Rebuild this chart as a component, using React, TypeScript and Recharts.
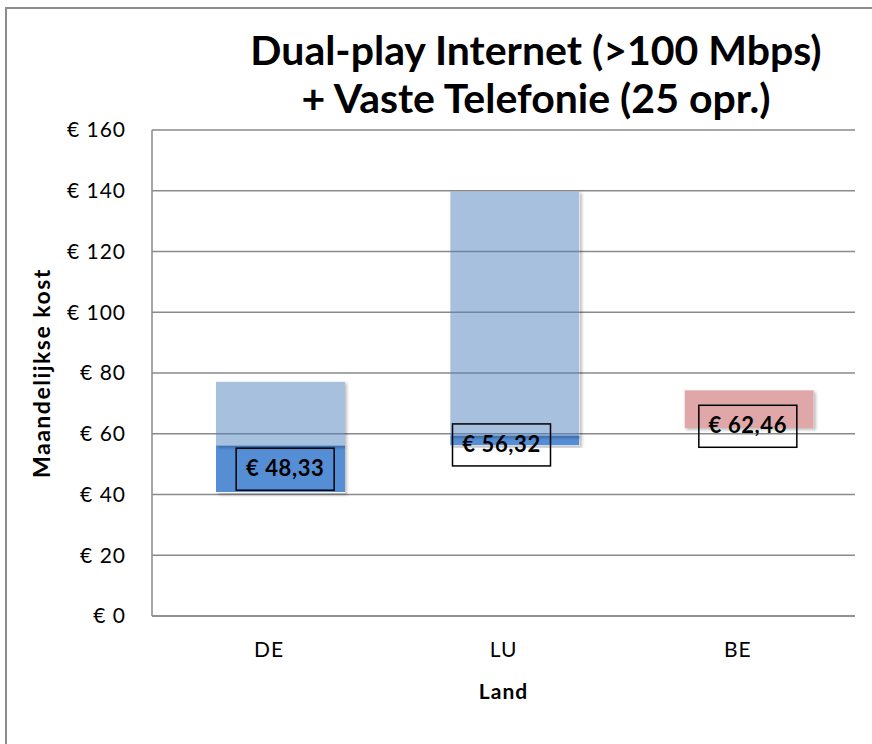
import {
  ComposedChart,
  Bar,
  Line,
  Cell,
  XAxis,
  YAxis,
  CartesianGrid,
} from "recharts";

const countries = ["DE", "LU", "BE"];
// floating bars: invisible base, then a dark lower band and a light upper band
const baseValues = [40.8, 56.2, 61.9];
const lowBand = [15.4, 3.3, 0];
const highBand = [20.9, 80.2, 12.4];
const averages = [48.33, 56.32, 62.46];
const yTicks = [0, 20, 40, 60, 80, 100, 120, 140, 160];

const highColors = ["#4F81BD", "#4F81BD", "#C0504D"];

const data = countries.map((c, i) => ({
  land: c,
  base: baseValues[i],
  low: lowBand[i],
  high: highBand[i],
  avg: averages[i],
}));

const FONT = "Lato, 'Open Sans', sans-serif";
const BAR_SHIFT = 11;
const LABEL_SHIFT = [16, -2, 10];

const euro = (v: number) => "€ " + v.toFixed(2).replace(".", ",");

function ShiftedBar(props: any) {
  const { x, y, width, height, fill, fillOpacity } = props;
  if (!height || height <= 0) return null;
  return (
    <rect
      x={x + BAR_SHIFT}
      y={y}
      width={width}
      height={height}
      fill={fill}
      fillOpacity={fillOpacity}
      filter="url(#barShadow)"
    />
  );
}

function AvgLabel(props: any) {
  const { cx, cy, index, payload } = props;
  if (cx == null || cy == null) return null;
  const w = 98;
  const h = 42;
  const x = cx + LABEL_SHIFT[index] - w / 2;
  return (
    <g key={"lbl" + index}>
      <rect x={x} y={cy - h / 2} width={w} height={h} fill="none" stroke="#000" strokeWidth={1.5} />
      <text
        x={x + w / 2}
        y={cy + 1}
        textAnchor="middle"
        dominantBaseline="middle"
        fontFamily={FONT}
        fontWeight={700}
        fontSize={22}
        letterSpacing={0.6}
        fill="#000"
      >
        {euro(payload.avg)}
      </text>
    </g>
  );
}

export default function App() {
  return (
    <div style={{ position: "absolute", left: 0, top: 0, width: 872, height: 744, overflow: "hidden", background: "#fff" }}>
      <style>{"html,body{margin:0;overflow:hidden}"}</style>
      <div
        style={{
          position: "absolute",
          left: 5,
          top: 7,
          width: 1200,
          height: 1000,
          borderTop: "2px solid #8c8c8c",
          borderLeft: "2px solid #8c8c8c",
        }}
      />
      <div
        style={{
          position: "absolute",
          left: 236,
          width: 600,
          top: 26,
          textAlign: "center",
          whiteSpace: "nowrap",
          fontFamily: FONT,
          fontWeight: 700,
          fontSize: 41,
          lineHeight: "48px",
          color: "#000",
        }}
      >
        Dual-play Internet (&gt;100 Mbps)
        <br />+ Vaste Telefonie (25 opr.)
      </div>
      <div style={{ position: "absolute", left: 0, top: 0 }}>
        <ComposedChart
          width={872}
          height={744}
          data={data}
          margin={{ top: 130, right: 17, bottom: 0, left: 0 }}
        >
          <defs>
            <filter id="barShadow" x="-10%" y="-10%" width="130%" height="130%">
              <feComponentTransfer in="SourceAlpha" result="solid">
                <feFuncA type="linear" slope="100" />
              </feComponentTransfer>
              <feGaussianBlur in="solid" stdDeviation="1.5" />
              <feOffset dx="2" dy="2" result="blur" />
              <feComposite in="blur" in2="solid" operator="out" result="outer" />
              <feComponentTransfer in="outer" result="sh">
                <feFuncA type="linear" slope="0.25" />
              </feComponentTransfer>
              <feMerge>
                <feMergeNode in="sh" />
                <feMergeNode in="SourceGraphic" />
              </feMerge>
            </filter>
          </defs>
          <CartesianGrid vertical={false} stroke="#8a8a8a" strokeWidth={1.5} />
          <XAxis
            dataKey="land"
            height={128}
            axisLine={{ stroke: "#8a8a8a", strokeWidth: 1.5 }}
            tickLine={false}
            tickSize={0}
            tickMargin={26}
            tick={{ fontFamily: FONT, fontSize: 21, fill: "#000", letterSpacing: 1 }}
            label={{
              value: "Land",
              position: "insideBottom",
              offset: 45,
              style: { fontFamily: FONT, fontSize: 21, fontWeight: 700, fill: "#000", letterSpacing: 1 },
            }}
          />
          <YAxis
            width={152}
            domain={[0, 160]}
            ticks={yTicks}
            interval={0}
            axisLine={{ stroke: "#8a8a8a", strokeWidth: 1.5 }}
            tickLine={false}
            tickSize={0}
            tickMargin={26}
            tickFormatter={(v: number) => "€ " + v}
            tick={{ fontFamily: FONT, fontSize: 21, fill: "#000", letterSpacing: 1 }}
            label={{
              value: "Maandelijkse kost",
              angle: -90,
              position: "insideLeft",
              offset: 42,
              style: { textAnchor: "middle", fontFamily: FONT, fontSize: 23, fontWeight: 700, fill: "#000", letterSpacing: 1.5 },
            }}
          />
          <Bar dataKey="base" stackId="a" fill="none" barSize={129} isAnimationActive={false} shape={() => null} />
          <Bar dataKey="low" stackId="a" fill="#558ED5" barSize={129} isAnimationActive={false} shape={ShiftedBar} />
          <Bar dataKey="high" stackId="a" barSize={129} isAnimationActive={false} shape={ShiftedBar}>
            {data.map((d, i) => (
              <Cell key={d.land} fill={highColors[i]} fillOpacity={0.5} />
            ))}
          </Bar>
          <Line
            dataKey="avg"
            stroke="none"
            isAnimationActive={false}
            dot={AvgLabel}
            activeDot={false}
          />
        </ComposedChart>
      </div>
    </div>
  );
}
